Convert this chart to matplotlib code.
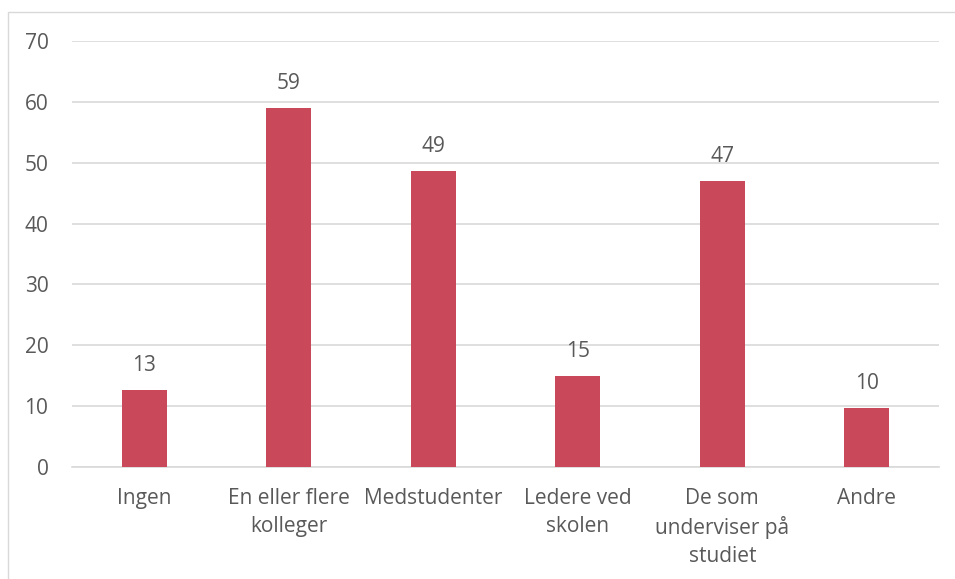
import matplotlib
matplotlib.use("Agg")
import matplotlib.pyplot as plt
from matplotlib.patches import Rectangle

categories = ["Ingen", "En eller flere\nkolleger", "Medstudenter", "Ledere ved\nskolen",
              "De som\nunderviser på\nstudiet", "Andre"]
values = [12.6, 59.0, 48.6, 14.9, 47.0, 9.7]
yticks = [0, 10, 20, 30, 40, 50, 60, 70]

bar_color = "#C9495A"
text_color = "#595959"
grid_color = "#D9D9D9"

plt.rcParams['font.family'] = ['Open Sans', 'DejaVu Sans']
FS = 15

fig = plt.figure(figsize=(9.55, 5.79), dpi=100)
W, H = 955, 579
ax = fig.add_axes([72 / W, 1 - 467 / H, (939 - 72) / W, (467 - 41) / H])

x = list(range(len(categories)))
ax.bar(x, values, width=0.31, color=bar_color, zorder=3)
ax.set_xlim(-0.5, len(categories) - 0.5)
ax.set_ylim(0, 70)
ax.set_yticks(yticks)
ax.set_yticklabels([str(t) for t in yticks])
ax.set_xticks(x)
ax.set_xticklabels(categories, linespacing=1.42)

for xi, v in zip(x, values):
    ax.annotate(f"{round(v)}", (xi, v), xytext=(0, 10), textcoords="offset points",
                ha="center", va="bottom", fontsize=FS, color=text_color)

ax.grid(axis="y", color=grid_color, linewidth=1.2, zorder=0)
for s in ["top", "right", "left"]:
    ax.spines[s].set_visible(False)
ax.spines["bottom"].set_color(grid_color)
ax.spines["bottom"].set_linewidth(1.2)
ax.tick_params(axis="both", length=0, labelsize=FS, colors=text_color)
ax.tick_params(axis="y", pad=17)
ax.tick_params(axis="x", pad=15)

fig.patches.append(Rectangle((8 / W, -0.1), 1.2, 1 - 12 / H + 0.1, transform=fig.transFigure,
                             fill=False, edgecolor="#D9D9D9", linewidth=1.0))

fig.savefig("out.png", dpi=100)
